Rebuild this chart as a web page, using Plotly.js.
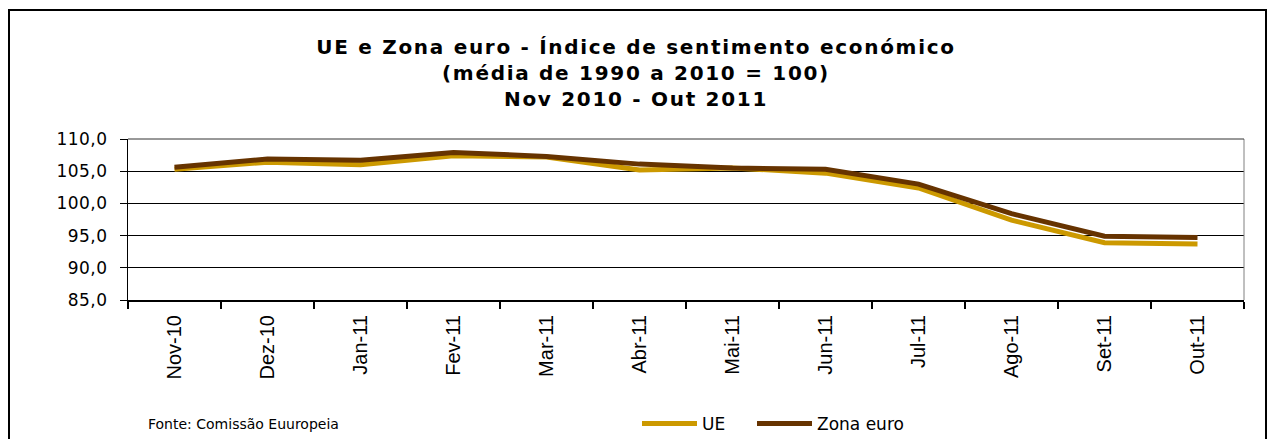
<!DOCTYPE html>
<html><head><meta charset="utf-8">
<script src="https://cdn.plot.ly/plotly-3.0.1.min.js"></script>
<style>
html,body{margin:0;padding:0;background:#fff;}
#chart{width:1272px;height:439px;}
#frame{position:absolute;left:8px;top:9px;width:1255px;height:450px;border:2px solid #000;pointer-events:none;}
.gtitle{letter-spacing:1.7px;}
.ytick text{letter-spacing:0.5px;}
</style></head>
<body>
<div id="chart"></div>
<div id="frame"></div>
<script>
const months = ["Nov-10","Dez-10","Jan-11","Fev-11","Mar-11","Abr-11","Mai-11","Jun-11","Jul-11","Ago-11","Set-11","Out-11"];
const ue = [105.3,106.4,106.0,107.4,107.2,105.2,105.5,104.7,102.4,97.4,93.9,93.7];
const zonaEuro = [105.6,106.9,106.7,107.9,107.3,106.1,105.5,105.3,103.0,98.4,94.9,94.7];

const font = "DejaVu Sans, Verdana, sans-serif";
const traces = [
  {x: months, y: ue, name: "UE", type: "scatter", mode: "lines", legend: "legend",
   line: {color: "#CC9900", width: 5}},
  {x: months, y: zonaEuro, name: "Zona euro", type: "scatter", mode: "lines", legend: "legend2",
   line: {color: "#663300", width: 5}}
];
const legendBase = {orientation: "h", xref: "container", xanchor: "left",
  yref: "container", y: 15/439, yanchor: "middle",
  font: {family: font, size: 17}, bgcolor: "rgba(0,0,0,0)", itemwidth: 55};
const layout = {
  width: 1272, height: 439,
  margin: {l: 128, r: 28, t: 139, b: 139},
  paper_bgcolor: "#fff", plot_bgcolor: "#fff",
  separators: ", ",
  font: {family: font, color: "#000"},
  title: {text: "<b>UE e Zona euro - Índice de sentimento económico<br>(média de 1990 a 2010 = 100)<br>Nov 2010 - Out 2011</b>",
          x: 0.5, xanchor: "center", xref: "container",
          y: 1 - 54/439, yanchor: "top", yref: "container", automargin: false,
          font: {family: font, size: 20, color: "#000"}},
  xaxis: {type: "category", tickangle: -90, tickson: "boundaries",
          ticks: "outside", ticklen: 7, tickwidth: 2, tickcolor: "#000",
          showline: true, linecolor: "#000", linewidth: 2,
          showgrid: false, automargin: false, ticklabelstandoff: 5,
          tickfont: {family: "Liberation Sans, Arial, sans-serif", size: 20},
          range: [-0.5, 11.5]},
  yaxis: {range: [85, 110], dtick: 5, tick0: 85, tickformat: ".1f",
          ticks: "outside", ticklen: 7, tickcolor: "#000",
          showline: true, linecolor: "#000", linewidth: 1,
          showgrid: true, gridcolor: "#000", gridwidth: 1,
          zeroline: false, automargin: false, ticklabelstandoff: 9,
          tickfont: {family: font, size: 17}},
  showlegend: true,
  legend: Object.assign({}, legendBase, {x: 637/1272}),
  legend2: Object.assign({}, legendBase, {x: 752/1272}),
  shapes: [
    {type: "line", xref: "paper", yref: "paper", x0: 1, x1: 1, y0: 0, y1: 1,
     line: {color: "#808080", width: 1}},
    {type: "line", xref: "paper", yref: "paper", x0: 0, x1: 1, y0: 1, y1: 1,
     line: {color: "#333", width: 1}}
  ],
  annotations: [
    {text: "Fonte: Comissão Euuropeia", xref: "paper", yref: "paper",
     x: 18/1116, y: -124/161, xanchor: "left", yanchor: "middle", showarrow: false,
     font: {family: font, size: 14}}
  ]
};
Plotly.newPlot("chart", traces, layout, {displayModeBar: false, staticPlot: true});
</script>
</body></html>
